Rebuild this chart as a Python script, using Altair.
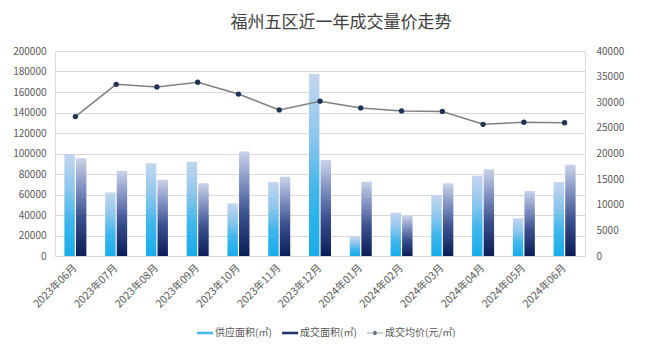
import altair as alt
import pandas as pd

months = ["2023年06月", "2023年07月", "2023年08月", "2023年09月", "2023年10月",
          "2023年11月", "2023年12月", "2024年01月", "2024年02月", "2024年03月",
          "2024年04月", "2024年05月", "2024年06月"]
supply_area = [99500, 62000, 90500, 92000, 51500, 72200, 177500, 18800, 42300, 59200, 78300, 36800, 72200]
deal_area = [95300, 83000, 74500, 71000, 102000, 77400, 93700, 72500, 39300, 70900, 84600, 63400, 89100]
avg_price = [27200, 33500, 33000, 33900, 31600, 28500, 30200, 28900, 28300, 28200, 25700, 26100, 26000]
series_names = ["供应面积(㎡)", "成交面积(㎡)", "成交均价(元/㎡)"]
left_ticks = [0, 20000, 40000, 60000, 80000, 100000, 120000, 140000, 160000, 180000, 200000]
right_ticks = [0, 5000, 10000, 15000, 20000, 25000, 30000, 35000, 40000]

FONT = "Noto Sans CJK SC"
TXT = "#595959"

supply_df = pd.DataFrame({"month": months, "value": supply_area, "series": series_names[0]})
deal_df = pd.DataFrame({"month": months, "value": deal_area, "series": series_names[1]})
price_df = pd.DataFrame({"month": months, "price": avg_price, "series": series_names[2]})

x_enc = alt.X(
    "month:N", sort=months,
    scale=alt.Scale(paddingInner=0.46, paddingOuter=0.23),
    axis=alt.Axis(title=None, labelAngle=-45, labelAlign="right", labelBaseline="middle",
                  labelPadding=10, ticks=False, domain=False, grid=False,
                  labelFont=FONT, labelFontSize=10.5, labelColor=TXT),
)
xoff = alt.XOffset("series:N", scale=alt.Scale(domain=series_names[:2], paddingInner=0.1, paddingOuter=0))
y_left = alt.Y(
    "value:Q", scale=alt.Scale(domain=[0, 200000], nice=False),
    axis=alt.Axis(title=None, values=left_ticks, format="d", ticks=False, domain=False,
                  grid=True, gridColor="#d9d9d9", gridWidth=1, labelPadding=9,
                  labelFont=FONT, labelFontSize=10, labelColor=TXT),
)

supply_grad = alt.Gradient(
    gradient="linear",
    stops=[alt.GradientStop(color="#17adea", offset=0),
           alt.GradientStop(color="#3fb6ec", offset=0.35),
           alt.GradientStop(color="#8cc6ec", offset=0.65),
           alt.GradientStop(color="#c4d6ee", offset=1)],
    x1=0, x2=0, y1=1, y2=0,
)
deal_grad = alt.Gradient(
    gradient="linear",
    stops=[alt.GradientStop(color="#0b1d57", offset=0),
           alt.GradientStop(color="#3b5190", offset=0.4),
           alt.GradientStop(color="#8595c4", offset=0.72),
           alt.GradientStop(color="#cad3e9", offset=1)],
    x1=0, x2=0, y1=1, y2=0,
)

supply_bar = alt.Chart(supply_df).mark_bar(color=supply_grad).encode(x=x_enc, xOffset=xoff, y=y_left)
deal_bar = alt.Chart(deal_df).mark_bar(color=deal_grad).encode(x=x_enc, xOffset=xoff, y=y_left)
bars = alt.layer(supply_bar, deal_bar)

y_right = alt.Y(
    "price:Q", scale=alt.Scale(domain=[0, 40000], nice=False),
    axis=alt.Axis(title=None, orient="right", values=right_ticks, format="d", ticks=False,
                  domain=False, grid=False, labelPadding=11,
                  labelFont=FONT, labelFontSize=10, labelColor=TXT),
)

line = alt.Chart(price_df).mark_line(color="#808080", strokeWidth=1.5).encode(x=x_enc, y=y_right)
dots = alt.Chart(price_df).mark_point(filled=True, color="#1f3354", size=28, opacity=1).encode(x=x_enc, y=y_right)

rect_path = "M-2,-0.32H2V0.32H-2Z"
line_path = "M-2,-0.09H2V0.09H-2Z M-0.5,0 A0.5,0.5 0 1,0 0.5,0 A0.5,0.5 0 1,0 -0.5,0Z"

leg = alt.Legend(title=None, orient="none", legendX=145, legendY=277,
                 direction="horizontal", columnPadding=7,
                 symbolSize=64, symbolOpacity=1, labelOffset=5,
                 labelFont=FONT, labelFontSize=10, labelColor=TXT)

legend_src = alt.Chart(price_df).mark_point(filled=True, opacity=0).encode(
    x=x_enc, y=y_right,
    color=alt.Color("series:N", scale=alt.Scale(domain=series_names, range=["#45b9ec", "#1f3470", "#3a4a66"]),
                    legend=leg),
    shape=alt.Shape("series:N", scale=alt.Scale(domain=series_names, range=[rect_path, rect_path, line_path]),
                    legend=leg),
)

lines = alt.layer(line, dots, legend_src)

chart = alt.layer(bars, lines).resolve_scale(y="independent").properties(
    width=530, height=205,
    title=alt.TitleParams("福州五区近一年成交量价走势", font=FONT, fontSize=17, fontWeight="normal",
                          color="#404040", anchor="middle", offset=14, dx=21),
    padding={"left": 47, "top": 43, "right": 67, "bottom": 96},
    autosize=alt.AutoSizeParams(type="none"),
).configure_view(stroke=None).configure(background="white")

chart.save("out.html", embed_options={"renderer": "svg", "actions": False})
